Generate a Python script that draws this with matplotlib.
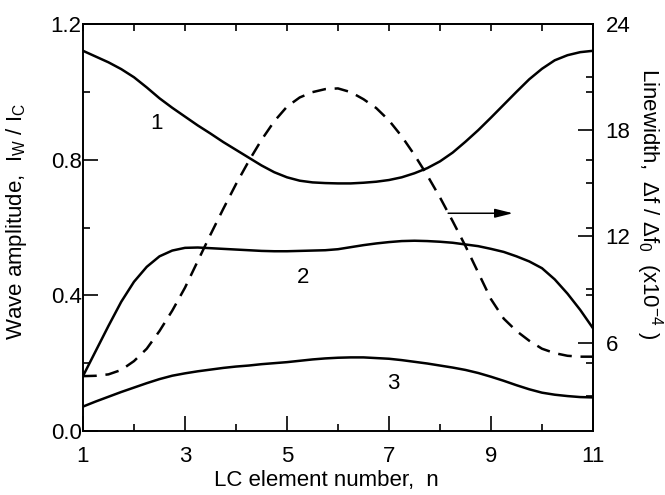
import matplotlib.pyplot as plt
from matplotlib.ticker import MultipleLocator, FixedLocator

# values, every quarter element
n_elem = [1, 1.25, 1.5, 1.75, 2, 2.25, 2.5, 2.75, 3, 3.25, 3.5, 3.75, 4, 4.25,
          4.5, 4.75, 5, 5.25, 5.5, 5.75, 6, 6.25, 6.5, 6.75, 7, 7.25, 7.5,
          7.75, 8, 8.25, 8.5, 8.75, 9, 9.25, 9.5, 9.75, 10, 10.25, 10.5, 10.75, 11]
amp_1 = [1.121, 1.104, 1.087, 1.067, 1.043, 1.013, 0.981, 0.953, 0.927, 0.901,
         0.877, 0.852, 0.829, 0.806, 0.783, 0.763, 0.748, 0.738, 0.733, 0.731,
         0.730, 0.730, 0.732, 0.735, 0.740, 0.748, 0.760, 0.775, 0.795, 0.821,
         0.853, 0.887, 0.924, 0.962, 1.000, 1.037, 1.068, 1.093, 1.108, 1.117, 1.121]
amp_2 = [0.162, 0.236, 0.310, 0.381, 0.440, 0.484, 0.515, 0.532, 0.540, 0.541,
         0.539, 0.537, 0.535, 0.533, 0.531, 0.530, 0.530, 0.531, 0.532, 0.533,
         0.536, 0.542, 0.548, 0.553, 0.557, 0.560, 0.561, 0.560, 0.558, 0.555,
         0.550, 0.545, 0.537, 0.528, 0.515, 0.500, 0.480, 0.447, 0.405, 0.357, 0.303]
amp_3 = [0.072, 0.087, 0.101, 0.115, 0.128, 0.141, 0.153, 0.163, 0.170, 0.176,
         0.181, 0.186, 0.190, 0.193, 0.197, 0.200, 0.203, 0.207, 0.211, 0.214,
         0.216, 0.217, 0.217, 0.215, 0.213, 0.209, 0.204, 0.199, 0.193, 0.187,
         0.180, 0.171, 0.160, 0.148, 0.135, 0.123, 0.113, 0.107, 0.103, 0.100, 0.099]
line_width = [4.10, 4.12, 4.20, 4.45, 4.95, 5.65, 6.65, 7.80, 9.10, 10.60,
              12.10, 13.55, 14.95, 16.25, 17.45, 18.50, 19.33, 19.85, 20.15, 20.32,
              20.36, 20.15, 19.75, 19.25, 18.55, 17.65, 16.60, 15.45, 14.20, 12.85,
              11.45, 9.95, 8.45, 7.35, 6.65, 6.10, 5.65, 5.40, 5.25, 5.20, 5.20]

plt.rcParams['font.family'] = 'Liberation Sans'
plt.rcParams['mathtext.fontset'] = 'custom'
plt.rcParams['mathtext.rm'] = 'Liberation Sans'
plt.rcParams['mathtext.it'] = 'Liberation Sans:italic'

fs = 16
fig = plt.figure(figsize=(6.65, 4.95), dpi=100)
ax = fig.add_axes([0.1248, 0.1293, 0.7669, 0.8222])

lw = 1.8
ax.plot(n_elem, amp_1, color='k', lw=lw)
ax.plot(n_elem, amp_2, color='k', lw=lw)
ax.plot(n_elem, amp_3, color='k', lw=lw)

ax.set_xlim(1, 11)
ax.set_ylim(0, 1.2)
ax.set_xticks([1, 3, 5, 7, 9, 11])
ax.xaxis.set_minor_locator(MultipleLocator(1))
ax.yaxis.set_major_locator(MultipleLocator(0.4))
ax.yaxis.set_minor_locator(MultipleLocator(0.2))
ax.yaxis.set_major_formatter('{x:.1f}')
ax.tick_params(which='major', direction='in', length=11, width=1.2, labelsize=fs)
ax.tick_params(which='minor', direction='in', length=5, width=1.2)
ax.tick_params(axis='y', pad=1)
ax.tick_params(axis='x', pad=10.5)

# short ticks on top and on the right for the left scale
secx = ax.secondary_xaxis('top')
secx.set_xticks(range(1, 12))
secx.tick_params(direction='in', length=5, width=1.2, labeltop=False)
secy = ax.secondary_yaxis('right')
secy.set_yticks([0.2, 0.4, 0.6, 0.8, 1.0])
secy.tick_params(direction='in', length=5, width=1.2, labelright=False)

ax2 = ax.twinx()
ax2.plot(n_elem, line_width, color='k', lw=lw, dashes=(5.5, 3.5))
ax2.set_ylim(1, 24)
ax2.yaxis.set_major_locator(FixedLocator([6, 12, 18, 24]))
ax2.yaxis.set_minor_locator(FixedLocator([3, 9, 15, 21]))
ax2.tick_params(which='major', direction='in', length=11, width=1.2, labelsize=fs, pad=9)
ax2.tick_params(which='minor', direction='in', length=5, width=1.2)

for a in (ax, ax2, secx, secy):
    for s in a.spines.values():
        s.set_linewidth(1.2)

ax.set_xlabel('LC element number,  n', fontsize=fs)
ax.xaxis.set_label_coords(0.478, -0.095)
ax.set_ylabel(r'Wave amplitude,  I$_\mathrm{W}$ / I$_\mathrm{C}$', fontsize=fs)
ax.yaxis.set_label_coords(-0.106, 0.516)
ax2.set_ylabel(r'Linewidth,  $\Delta$f / $\Delta$f$_\mathrm{0}$  (x10$^\mathrm{-4}$ )',
               fontsize=fs, rotation=270, va='bottom')
ax2.yaxis.set_label_coords(1.080, 0.56)

ax.text(2.44, 0.907, '1', fontsize=fs, ha='center', va='center')
ax.text(5.32, 0.453, '2', fontsize=fs, ha='center', va='center')
ax.text(7.08, 0.139, '3', fontsize=fs, ha='center', va='center')
ax.annotate('', xy=(9.43, 0.642), xytext=(8.16, 0.642),
            arrowprops=dict(arrowstyle='-|>,head_length=0.6,head_width=0.15',
                            color='k', lw=1.1, mutation_scale=18,
                            shrinkA=0, shrinkB=0))

fig.savefig('out.png', dpi=100)
